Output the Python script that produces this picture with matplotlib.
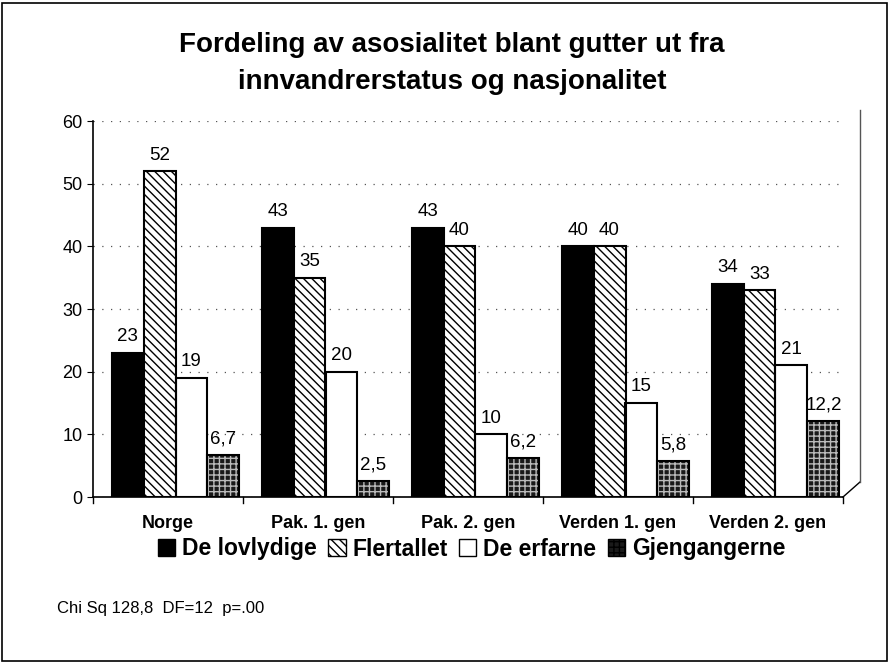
import matplotlib
matplotlib.use("Agg")
import matplotlib.pyplot as plt
import numpy as np
from matplotlib.patches import Patch, Rectangle

plt.rcParams['font.family'] = ['Liberation Sans', 'DejaVu Sans']

categories = ["Norge", "Pak. 1. gen", "Pak. 2. gen", "Verden 1. gen", "Verden 2. gen"]
series_names = ["De lovlydige", "Flertallet", "De erfarne", "Gjengangerne"]
de_lovlydige = [23, 43, 43, 40, 34]
flertallet = [52, 35, 40, 40, 33]
de_erfarne = [19, 20, 10, 15, 21]
gjengangerne = [6.7, 2.5, 6.2, 5.8, 12.2]
labels_lovlydige = ["23", "43", "43", "40", "34"]
labels_flertallet = ["52", "35", "40", "40", "33"]
labels_erfarne = ["19", "20", "10", "15", "21"]
labels_gjeng = ["6,7", "2,5", "6,2", "5,8", "12,2"]
yticks = [0, 10, 20, 30, 40, 50, 60]

series = [de_lovlydige, flertallet, de_erfarne, gjengangerne]
series_labels = [labels_lovlydige, labels_flertallet, labels_erfarne, labels_gjeng]
styles = [
    dict(face="black", hatch=None, hcol=None),
    dict(face="white", hatch="\\\\\\\\", hcol="black"),
    dict(face="white", hatch=None, hcol=None),
    dict(face="#1a1a1a", hatch="+++", hcol="#bbbbbb"),
]

fig = plt.figure(figsize=(8.9, 6.63), dpi=100)
ax = fig.add_axes([93/890, 1-497/663, (843-93)/890, (497-121)/663])

x = np.arange(len(categories))
w = 0.213
shift = 0.05
for i, (vals, st, labs) in enumerate(zip(series, styles, series_labels)):
    pos = x + (i - 1.5) * w + shift
    if st["hatch"]:
        ax.bar(pos, vals, w, color=st["face"], edgecolor=st["hcol"], hatch=st["hatch"],
               linewidth=0, zorder=3)
        ax.bar(pos, vals, w, fill=False, edgecolor="black", linewidth=1.5, zorder=4)
    else:
        ax.bar(pos, vals, w, color=st["face"], edgecolor="black", linewidth=1.5, zorder=3)
    for p, v, lab in zip(pos, vals, labs):
        ax.text(p, v + 1.2, lab, ha="center", va="bottom", fontsize=13.5, zorder=5)

ax.set_xlim(-0.5, len(categories) - 0.5)
ax.set_ylim(0, 60)
ax.set_yticks(yticks)
ax.set_yticklabels([str(t) for t in yticks], fontsize=13)
ax.set_xticks(x)
ax.set_xticklabels(categories, fontsize=13, fontweight="bold")
ax.tick_params(axis="x", length=0, pad=13)
ax.tick_params(axis="y", length=4, direction="out")
for b in np.arange(-0.5, len(categories), 1.0):
    ax.plot([b, b], [0, -0.9], color="black", lw=1, clip_on=False)
ax.grid(axis="y", linestyle=(0, (1, 6)), color="#555555", linewidth=0.9, zorder=0)
for s in ["top", "right"]:
    ax.spines[s].set_visible(False)
ax.spines["left"].set_linewidth(1.2)
ax.spines["bottom"].set_linewidth(1.2)
# 3D back wall / floor hint
ax.plot([1.0, 1.0 + 17/750], [0, 15/376], transform=ax.transAxes, color="black", lw=1, clip_on=False)
ax.plot([1.0 + 17/750, 1.0 + 17/750], [15/376, 1.03], transform=ax.transAxes, color="#555555", lw=1, clip_on=False)

fig.text(0.508, 1 - 45/663, "Fordeling av asosialitet blant gutter ut fra", ha="center", va="center",
         fontsize=20, fontweight="bold")
fig.text(0.508, 1 - 82/663, "innvandrerstatus og nasjonalitet", ha="center", va="center",
         fontsize=20, fontweight="bold")

handles = []
for st, name in zip(styles, series_names):
    if st["hatch"]:
        handles.append(Patch(facecolor=st["face"], edgecolor="black", hatch=st["hatch"], label=name))
    else:
        handles.append(Patch(facecolor=st["face"], edgecolor="black", label=name))
leg = fig.legend(handles=handles, loc="center", bbox_to_anchor=(0.53, 1 - 549/663), ncol=4,
                 frameon=False, prop=dict(size=16.5, weight="bold"), handlelength=0.75,
                 handleheight=0.75, handletextpad=0.3, columnspacing=0.5)

fig.text(57/890, 1 - 609/663, "Chi Sq 128,8  DF=12  p=.00", ha="left", va="center", fontsize=12)

fig.patches.append(Rectangle((2/890, 2/663), 885/890, 658/663, transform=fig.transFigure,
                             fill=False, edgecolor="black", linewidth=1.2))

fig.savefig("out.png", dpi=100)
